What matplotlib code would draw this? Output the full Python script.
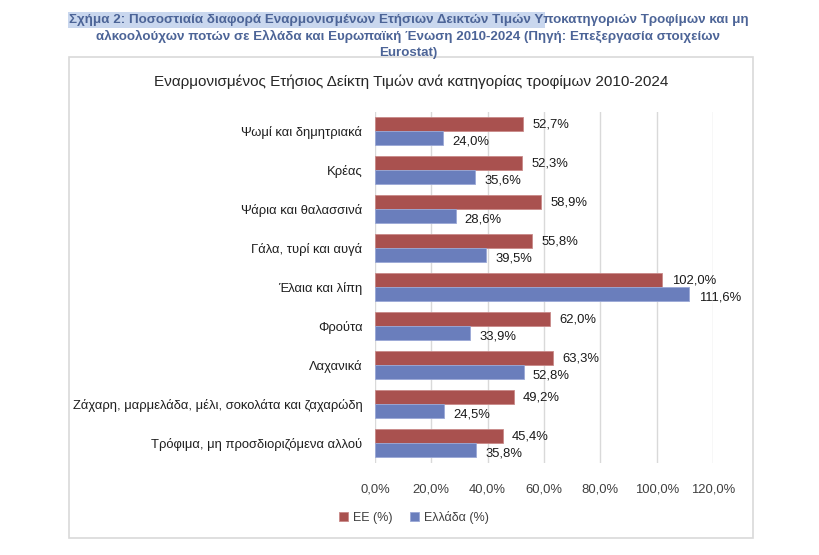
import numpy as np
import matplotlib.pyplot as plt
from matplotlib.patches import Rectangle

plt.rcParams['font.family'] = ['Liberation Sans', 'DejaVu Sans']

categories = [
    "Ψωμί και δημητριακά",
    "Κρέας",
    "Ψάρια και θαλασσινά",
    "Γάλα, τυρί και αυγά",
    "Έλαια και λίπη",
    "Φρούτα",
    "Λαχανικά",
    "Ζάχαρη, μαρμελάδα, μέλι, σοκολάτα και ζαχαρώδη",
    "Τρόφιμα, μη προσδιοριζόμενα αλλού",
]
ee = [52.7, 52.3, 58.9, 55.8, 102.0, 62.0, 63.3, 49.2, 45.4]
greece = [24.0, 35.6, 28.6, 39.5, 111.6, 33.9, 52.8, 24.5, 35.8]
xticks = [0, 20, 40, 60, 80, 100, 120]

red = "#A9514F"
blue = "#6A7EBC"


def pct(v):
    return f"{v:.1f}%".replace(".", ",")


fig = plt.figure(figsize=(8.2, 5.55), dpi=100)

# heading above the chart
heading = ("Σχήμα 2: Ποσοστιαία διαφορά Εναρμονισμένων Ετήσιων Δεικτών Τιμών Υποκατηγοριών Τροφίμων και μη\n"
           "αλκοολούχων ποτών σε Ελλάδα και Ευρωπαϊκή Ένωση 2010-2024 (Πηγή: Επεξεργασία στοιχείων\n"
           "Eurostat)")
fig.patches.append(Rectangle((68 / 820, 1 - 28 / 555), (545 - 68) / 820, 16 / 555,
                             transform=fig.transFigure, facecolor="#C9D7EE", edgecolor="none", zorder=-2))
fig.text(0.498, 1 - 14 / 555, heading, ha="center", va="top", fontsize=9.6,
         fontweight="bold", color="#4C6497", linespacing=1.4)

# chart frame
fig.patches.append(Rectangle((69 / 820, 1 - 538 / 555), (753 - 69) / 820, (538 - 57) / 555,
                             transform=fig.transFigure, facecolor="none",
                             edgecolor="#D9D9D9", linewidth=1.2, zorder=-1))
fig.text(411 / 820, 1 - 82 / 555, "Εναρμονισμένος Ετήσιος Δείκτη Τιμών ανά κατηγορίας τροφίμων 2010-2024",
         ha="center", va="center", fontsize=11.0, color="#262626")

ax = fig.add_axes([375 / 820, 1 - 462.5 / 555, (713 - 375) / 820, 351 / 555])
y = np.arange(len(categories))
h = 0.36
ax.barh(y - h / 2, ee, height=h, color=red, edgecolor="#C98A89", linewidth=0.6, label="ΕΕ (%)", zorder=3)
ax.barh(y + h / 2, greece, height=h, color=blue, edgecolor="#9AA8D6", linewidth=0.6, label="Ελλάδα (%)", zorder=3)

for i in range(len(categories)):
    ax.text(ee[i] + 3.3, y[i] - h / 2 + 0.02, pct(ee[i]), va="center", ha="left", fontsize=9.4, color="#1a1a1a")
    ax.text(greece[i] + 3.3, y[i] + h / 2 + 0.08, pct(greece[i]), va="center", ha="left", fontsize=9.4, color="#1a1a1a")

ax.set_xlim(0, 120)
ax.set_ylim(len(categories) - 0.5, -0.5)
ax.set_xticks(xticks)
ax.set_xticklabels([pct(v) for v in xticks])
ax.set_yticks(y)
ax.set_yticklabels(categories)
ax.tick_params(axis="x", length=0, pad=15, labelsize=9.4, labelcolor="#404040")
ax.tick_params(axis="y", length=0, pad=9, labelsize=9.4, labelcolor="#1f1f1f")
ax.grid(axis="x", color="#D9D9D9", linewidth=1, zorder=0)
ax.set_axisbelow(True)
for s in ax.spines.values():
    s.set_visible(False)

fig.legend(loc="center", bbox_to_anchor=(414 / 820, 1 - 517 / 555), ncol=2, frameon=False,
           fontsize=9.0, handlelength=0.7, handleheight=0.7, handletextpad=0.4, columnspacing=1.4,
           labelcolor="#404040")

fig.savefig("out.png", dpi=100, facecolor="white")
